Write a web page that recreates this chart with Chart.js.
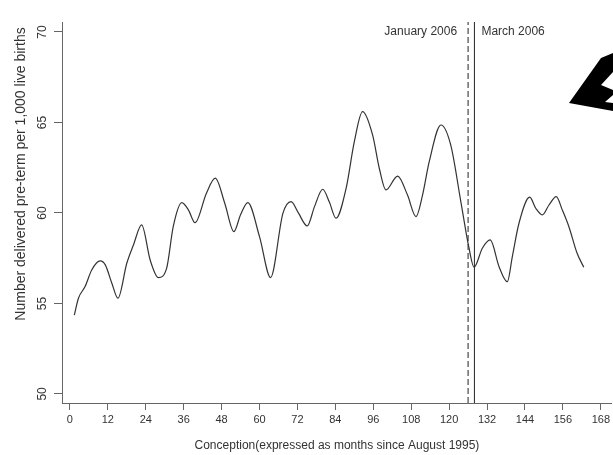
<!DOCTYPE html>
<html>
<head>
<meta charset="utf-8">
<script src="https://cdn.jsdelivr.net/npm/chart.js@4.4.1/dist/chart.umd.min.js"></script>
<style>
  html, body { margin: 0; padding: 0; background: #fff; }
</style>
</head>
<body>
<canvas id="chart" width="613" height="455"></canvas>
<script>
(function () {
  'use strict';

  // Smoothed pre-term rate (months since Aug 1995)
  var months = [1.4, 2.7, 4.8, 6.9, 9.6, 11.2, 13.3, 15.2, 18, 20.1, 22.7, 25.4, 28, 30.6, 32.7, 35.4,
    37.5, 39.6, 43.2, 46, 49, 51.9, 54, 56.3, 60, 63.5, 67.4, 70, 72.3, 75.1, 77.4, 80, 82.1, 84.2,
    87.4, 90, 92.6, 95.8, 97.9, 100, 103.7, 106.8, 109.5, 111.6, 113.7, 117.4, 120.5, 123.7, 126.3,
    127.9, 130.5, 133, 135.8, 138.4, 140, 142.1, 145.5, 147.4, 149.5, 151.6, 153.9, 155.8, 157.9,
    160.5, 162.6];
  var rates = [54.36, 55.29, 55.93, 56.85, 57.35, 57.13, 56.1, 55.29, 57.22, 58.23, 59.34, 57.4, 56.43,
    56.94, 59.25, 60.57, 60.17, 59.46, 61.09, 61.92, 60.54, 58.97, 59.9, 60.57, 58.69, 56.43, 59.98,
    60.63, 60.0, 59.28, 60.35, 61.31, 60.6, 59.71, 61.36, 63.94, 65.6, 64.3, 62.47, 61.27, 62.04, 61.0,
    59.8, 61.0, 62.83, 64.86, 63.76, 60.63, 58.05, 57.0, 58.05, 58.51, 57.03, 56.2, 57.59, 59.43, 60.87,
    60.26, 59.89, 60.44, 60.9, 60.17, 59.24, 57.77, 57.0];

  var xTicks = [0, 12, 24, 36, 48, 60, 72, 84, 96, 108, 120, 132, 144, 156, 168];
  var yTicks = [50, 55, 60, 65, 70];

  var eventMonths = [126, 128];
  var eventLabels = ['January 2006', 'March 2006'];

  var X_MIN = -2.5, X_MAX = 171.5, Y_MIN = 49.5, Y_MAX = 70.55;
  var FONT = '"Liberation Sans", Arial, sans-serif';

  var points = months.map(function (m, i) { return { x: m, y: rates[i] }; });

  function eventLine(m, dash) {
    return {
      data: [{ x: m, y: Y_MIN }, { x: m, y: Y_MAX }],
      borderColor: '#222',
      borderWidth: 1,
      borderDash: dash,
      pointRadius: 0
    };
  }

  /** Rotated y labels, y title, event labels and the arrow */
  var extras = {
    id: 'extras',
    afterDraw: function (chart) {
      var ctx = chart.ctx;
      var xs = chart.scales.x, ys = chart.scales.y;
      ctx.save();
      ctx.fillStyle = '#333';
      ctx.textAlign = 'center';
      ctx.textBaseline = 'middle';

      ctx.font = '12px ' + FONT;
      yTicks.forEach(function (v) {
        ctx.save();
        ctx.translate(43, ys.getPixelForValue(v));
        ctx.rotate(-Math.PI / 2);
        ctx.fillText(String(v), 0, 0);
        ctx.restore();
      });

      ctx.save();
      ctx.font = '14px ' + FONT;
      ctx.translate(21, 174);
      ctx.rotate(-Math.PI / 2);
      ctx.fillText('Number delivered pre-term per 1,000 live births', 0, 0);
      ctx.restore();

      ctx.font = '12px ' + FONT;
      ctx.textAlign = 'right';
      ctx.fillText(eventLabels[0], xs.getPixelForValue(eventMonths[0]) - 11, 32);
      ctx.textAlign = 'left';
      ctx.fillText(eventLabels[1], xs.getPixelForValue(eventMonths[1]) + 7, 32);

      // big black arrow cut by the right edge
      ctx.fillStyle = '#000';
      ctx.beginPath();
      ctx.moveTo(569, 103);
      ctx.lineTo(601, 58);
      ctx.lineTo(613, 53);
      ctx.lineTo(613, 72);
      ctx.lineTo(601, 85);
      ctx.lineTo(613, 90);
      ctx.lineTo(613, 95);
      ctx.lineTo(605, 102);
      ctx.lineTo(613, 103);
      ctx.lineTo(613, 111);
      ctx.closePath();
      ctx.fill();
      ctx.restore();
    }
  };

  new Chart(document.getElementById('chart'), {
    type: 'line',
    data: {
      datasets: [{
        data: points,
        borderColor: '#333',
        borderWidth: 1.2,
        pointRadius: 0,
        cubicInterpolationMode: 'monotone'
      },
      eventLine(eventMonths[0], [6, 3]),
      eventLine(eventMonths[1], [])]
    },
    options: {
      responsive: false,
      animation: false,
      layout: { padding: { top: 22, right: 0, left: 0, bottom: 0 } },
      plugins: { legend: { display: false }, tooltip: { enabled: false } },
      scales: {
        x: {
          type: 'linear',
          min: X_MIN,
          max: X_MAX,
          afterBuildTicks: function (s) { s.ticks = xTicks.map(function (v) { return { value: v }; }); },
          afterFit: function (s) { s.height = 52; },
          ticks: { color: '#333', font: { size: 11, family: FONT }, padding: 3, autoSkip: false, maxRotation: 0 },
          grid: { drawOnChartArea: false, drawTicks: true, tickLength: 7, color: '#666' },
          border: { display: true, color: '#666', width: 1 },
          title: {
            display: true,
            text: 'Conception(expressed as months since August 1995)',
            color: '#333',
            font: { size: 12, family: FONT },
            padding: { top: 0, bottom: 2 }
          }
        },
        y: {
          type: 'linear',
          min: Y_MIN,
          max: Y_MAX,
          afterBuildTicks: function (s) { s.ticks = yTicks.map(function (v) { return { value: v }; }); },
          afterFit: function (s) { s.width = 62; },
          ticks: { display: false },
          grid: { drawOnChartArea: false, drawTicks: true, tickLength: 8, color: '#666' },
          border: { display: true, color: '#666', width: 1 }
        }
      }
    },
    plugins: [extras]
  });
})();
</script>
</body>
</html>
